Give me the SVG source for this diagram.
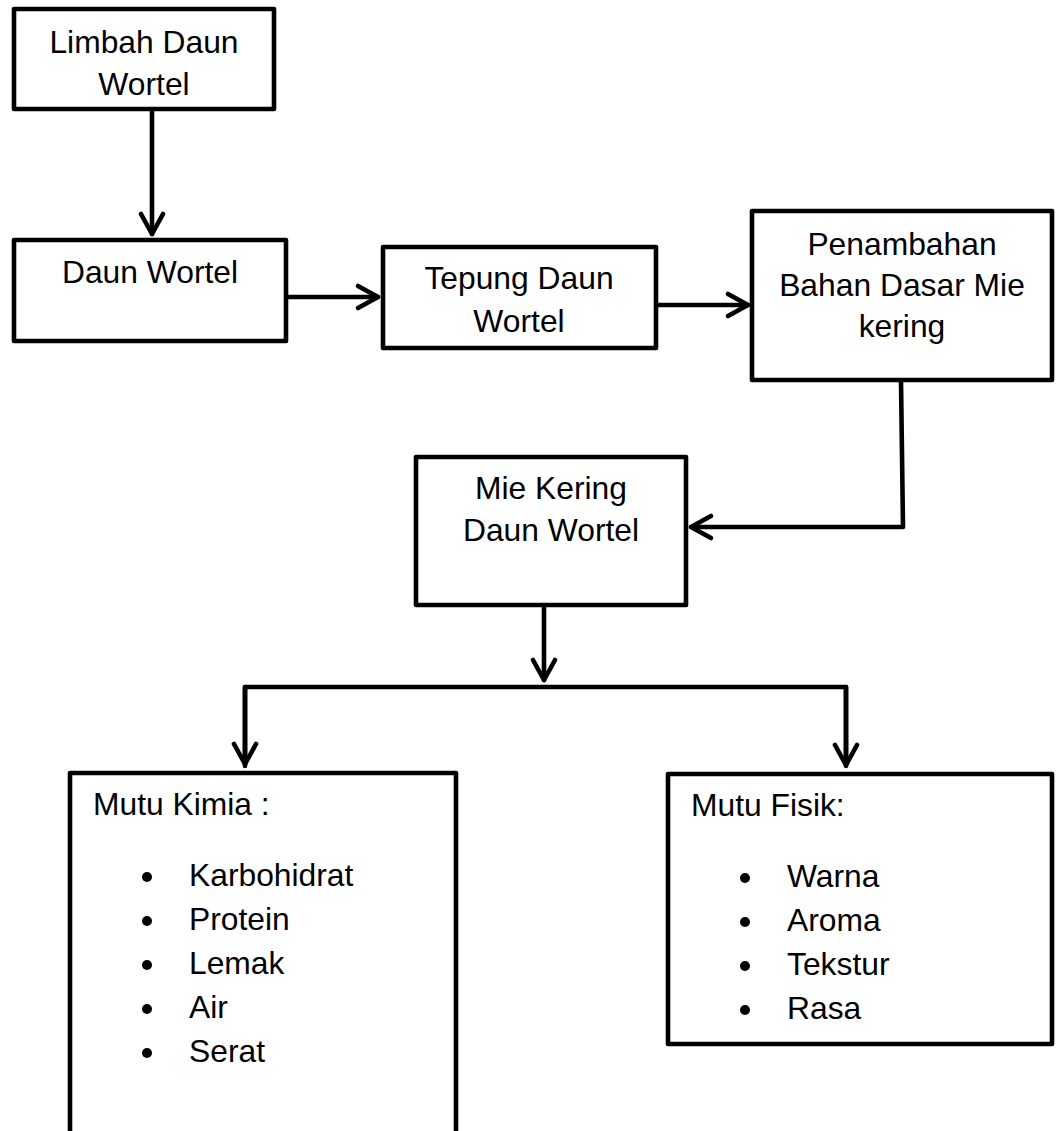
<svg xmlns="http://www.w3.org/2000/svg" width="1056" height="1131" viewBox="0 0 1056 1131">
<style>
.box{fill:#fff;stroke:#000;stroke-width:4.6;stroke-linejoin:round}
.t{font-family:"Liberation Sans",Arial,sans-serif;font-size:31.8px;fill:#000}
.c{text-anchor:middle}
.ln{fill:none;stroke:#000;stroke-width:4.6;stroke-linejoin:round;stroke-linecap:round}
.b{fill:#000}
</style>
<defs>
<marker id="ah" viewBox="0 0 12 12" refX="10" refY="6" markerWidth="12" markerHeight="12" markerUnits="userSpaceOnUse" orient="auto" overflow="visible">
<path d="M-10,-5 L10,6 L-10,17" fill="none" stroke="#000" stroke-width="4.6" stroke-linecap="round" stroke-linejoin="round"/>
</marker>
</defs>
<rect width="1056" height="1131" fill="#fff"/>
<g id="connectors">
<path class="ln" d="M152,111 V234" marker-end="url(#ah)"/>
<path class="ln" d="M287,297 H378" marker-end="url(#ah)"/>
<path class="ln" d="M657,305 H748" marker-end="url(#ah)"/>
<path class="ln" d="M901,381 L903,527 H691" marker-end="url(#ah)"/>
<path class="ln" d="M544,606 V680" marker-end="url(#ah)"/>
<path class="ln" d="M245,766 V687 H846 V766"/>
<path class="ln" d="M245,687 V764" marker-end="url(#ah)"/>
<path class="ln" d="M846,687 V765" marker-end="url(#ah)"/>
</g>
<g id="n1">
<rect class="box" x="14" y="9" width="260" height="100"/>
<text class="t c" x="144" y="53">Limbah Daun</text>
<text class="t c" x="144" y="95">Wortel</text>
</g>
<g id="n2">
<rect class="box" x="14" y="240" width="272" height="101"/>
<text class="t c" x="150" y="283">Daun Wortel</text>
</g>
<g id="n3">
<rect class="box" x="383" y="247" width="273" height="101"/>
<text class="t c" x="519" y="289">Tepung Daun</text>
<text class="t c" x="519" y="332">Wortel</text>
</g>
<g id="n4">
<rect class="box" x="752" y="211" width="300" height="169"/>
<text class="t c" x="902" y="255">Penambahan</text>
<text class="t c" x="902" y="296">Bahan Dasar Mie</text>
<text class="t c" x="902" y="337">kering</text>
</g>
<g id="n5">
<rect class="box" x="416" y="457" width="270" height="148"/>
<text class="t c" x="551" y="499">Mie Kering</text>
<text class="t c" x="551" y="541">Daun Wortel</text>
</g>
<g id="n6">
<rect class="box" x="70" y="773" width="386" height="400"/>
<text class="t" x="93" y="815">Mutu Kimia :</text>
<circle class="b" cx="147" cy="877" r="5"/>
<circle class="b" cx="147" cy="921" r="5"/>
<circle class="b" cx="147" cy="965" r="5"/>
<circle class="b" cx="147" cy="1009" r="5"/>
<circle class="b" cx="147" cy="1053" r="5"/>
<text class="t" x="189" y="886">Karbohidrat</text>
<text class="t" x="189" y="930">Protein</text>
<text class="t" x="189" y="974">Lemak</text>
<text class="t" x="189" y="1018">Air</text>
<text class="t" x="189" y="1062">Serat</text>
</g>
<g id="n7">
<rect class="box" x="668" y="774" width="384" height="270"/>
<text class="t" x="691" y="816">Mutu Fisik:</text>
<circle class="b" cx="745" cy="878" r="5"/>
<circle class="b" cx="745" cy="922" r="5"/>
<circle class="b" cx="745" cy="966" r="5"/>
<circle class="b" cx="745" cy="1010" r="5"/>
<text class="t" x="787" y="887">Warna</text>
<text class="t" x="787" y="931">Aroma</text>
<text class="t" x="787" y="975">Tekstur</text>
<text class="t" x="787" y="1019">Rasa</text>
</g>
</svg>
